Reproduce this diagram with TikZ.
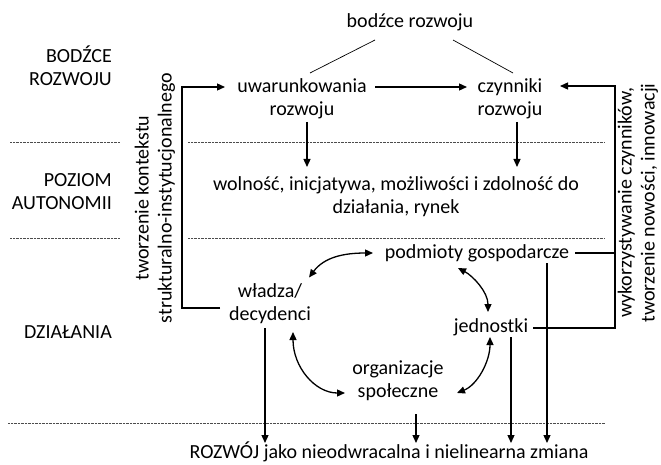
\documentclass[tikz,border=0pt]{standalone}
\usepackage{fontspec}
\setmainfont{Carlito}
\usetikzlibrary{arrows.meta,calc}
\begin{document}
\begin{tikzpicture}[x=1pt,y=-1pt,
 txt/.style={font=\fontsize{20}{23}\selectfont, align=center, inner sep=0pt},
 lab/.style={txt, align=right, anchor=east},
 tip/.tip={Triangle[length=8pt,width=7pt]},
 arr/.style={line width=1.3pt,-tip},
 darr/.style={line width=1.3pt,tip-tip},
 ln/.style={line width=1.3pt},
 thinln/.style={line width=0.7pt},
 sep/.style={line width=0.6pt, black!70, dash pattern=on 0.7pt off 0.7pt}]
\useasboundingbox (0,0) rectangle (661,465);
% row labels
\node[lab] (l1) at (112,65.5) {BODŹCE\\ROZWOJU};
\node[lab] (l2) at (112,191.5) {POZIOM\\AUTONOMII};
\node[lab] (l3) at (112,332) {DZIAŁANIA};
% separators
\draw[sep] (10,142) -- (120,142);
\draw[sep] (188,142) -- (605,142);
\draw[sep] (10,238) -- (120,238);
\draw[sep] (188,238) -- (605,238);
\draw[sep] (8,423) -- (605,423);
% nodes
\node[txt] (bz) at (410,22) {bodźce rozwoju};
\node[txt] (uw) at (302,98.5) {uwarunkowania\\rozwoju};
\node[txt] (cz) at (510,98.5) {czynniki\\rozwoju};
\node[txt] (wo) at (396,196.5) {wolność, inicjatywa, możliwości i zdolność do\\działania, rynek};
\node[txt] (pg) at (477,253) {podmioty gospodarcze};
\node[txt] (wl) at (270,303.5) {władza/\\decydenci};
\node[txt] (je) at (491,327) {jednostki};
\node[txt] (os) at (398,381) {organizacje\\społeczne};
\node[txt] (rz) at (389,452) {ROZWÓJ jako nieodwracalna i nielinearna zmiana};
\node[txt, rotate=90] (tk) at (155,198) {tworzenie kontekstu\\strukturalno-instytucjonalnego};
\node[txt, rotate=90] (wc) at (638,203) {wykorzystywanie czynników,\\tworzenie nowości, innowacji};
% bodzce lines
\draw[thinln] ($(bz)+(-35,18)$) -- ($(uw)+(8,-25.5)$);
\draw[thinln] ($(bz)+(43,18)$) -- ($(cz)+(3,-25.5)$);
% top arrows
\draw[arr] ($(uw)+(73,-11.5)$) -- ($(cz)+(-43,-11.5)$);
\draw[arr] ($(uw)+(5,23.5)$) -- ($(wo)+(-89,-29.5)$);
\draw[arr] ($(cz)+(7,23.5)$) -- ($(wo)+(121,-29.5)$);
% brackets
\coordinate (lb) at (182,200);
\coordinate (rb) at (615,200);
\draw[arr] ($(wl)+(-50,4.5)$) -| (lb) |- ($(uw)+(-77,-11.5)$);
\draw[arr] ($(je)+(42,1)$) -| (rb) |- ($(cz)+(50,-12.5)$);
\draw[ln] ($(pg)+(98,0)$) -- ($(pg -| rb)+(0.65,0)$);
% cycle
\draw[darr] ($(wl)+(39,-26)$) .. controls +(15,-20) and +(-30,0) .. ($(pg)+(-104,0)$);
\draw[darr] ($(pg)+(-19,15)$) .. controls +(15,8) and +(0,-20) .. ($(je)+(-3,-15)$);
\draw[darr] ($(je)+(-1,10)$) .. controls +(0,25) and +(20,-8) .. ($(os)+(59,12)$);
\draw[darr] ($(wl)+(23,28.5)$) .. controls +(0,35) and +(-30,0) .. ($(os)+(-53,12)$);
% down arrows
\draw[arr] ($(wl)+(-5,24.5)$) -- ($(rz)+(-124,-9)$);
\draw[arr] ($(os)+(18,33)$) -- ($(rz)+(27,-9)$);
\draw[arr] ($(je)+(20,10)$) -- ($(rz)+(122,-9)$);
\draw[arr] ($(pg)+(70,10)$) -- ($(rz)+(158,-9)$);
\end{tikzpicture}
\end{document}
